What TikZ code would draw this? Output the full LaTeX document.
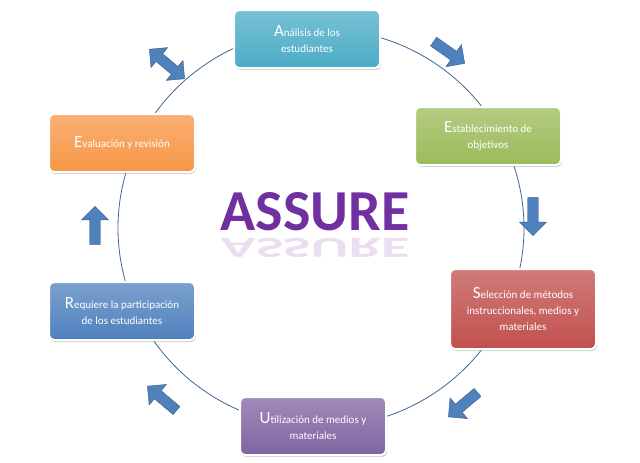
\documentclass[tikz,border=0pt]{standalone}
\usepackage{fontspec}
\setmainfont{Carlito}
\usetikzlibrary{shapes.arrows,shadows}
\definecolor{cteal}{HTML}{4BACC6}
\definecolor{cgreen}{HTML}{9BBB59}
\definecolor{cred}{HTML}{C0504D}
\definecolor{cpurple}{HTML}{8064A2}
\definecolor{cblue}{HTML}{4F81BD}
\definecolor{corange}{HTML}{F79646}
\definecolor{cassure}{HTML}{7030A0}
\tikzset{
 stage/.style={draw=white,line width=2pt,rounded corners=5pt,minimum width=146pt,minimum height=58pt,text=white,align=center,font=\fontsize{11}{16}\selectfont,drop shadow={opacity=0.35,shadow xshift=1pt,shadow yshift=-2pt},top color=#1!75!white,bottom color=#1},
 sarrow/.style={single arrow,draw=cblue!70!black,fill=cblue,minimum height=38pt,minimum width=27pt,single arrow head extend=5pt,inner sep=3pt},
 darrow/.style={double arrow,draw=cblue!70!black,fill=cblue,minimum height=46pt,minimum width=26pt,double arrow head extend=5pt,inner sep=3pt},
}
\newcommand{\bigini}[1]{{\fontsize{17}{17}\selectfont #1}}
\begin{document}
\begin{tikzpicture}[x=1pt,y=-1pt]
\useasboundingbox (0,0) rectangle (640,463);
\fill[white] (0,0) rectangle (640,463);
\draw[cblue!80!black,line width=0.8pt] (321,228) ellipse [x radius=203,y radius=199];
\node[stage=cteal] (a) at (307,39) {\bigini{A}nálisis de los\\estudiantes};
\node[stage=cgreen] (e) at (488,136) {\bigini{E}stablecimiento de\\objetivos};
\node[stage=cred,minimum height=80pt] (s) at (523,309) {\bigini{S}elección de métodos\\instruccionales, medios y\\materiales};
\node[stage=cpurple] (u) at (313,426) {\bigini{U}tilización de medios y\\materiales};
\node[stage=cblue] (r) at (122,311) {\bigini{R}equiere la participación\\de los estudiantes};
\node[stage=corange] (v) at (122,143) {\bigini{E}valuación y revisión};
\node[sarrow,rotate=-35] (ar1) at (447,51) {};
\node[sarrow,rotate=-90] (ar2) at (533,214) {};
\node[sarrow,rotate=-140] (ar3) at (465,403) {};
\node[sarrow,rotate=140] (ar4) at (164,400) {};
\node[sarrow,rotate=90] (ar5) at (95,228) {};
\node[darrow,rotate=-40] (ar6) at (167,64) {};
\node[text=cassure,font=\fontsize{58}{58}\selectfont\bfseries] (t) at (315,212) {ASSURE};
\node[text=cassure!25,font=\fontsize{58}{58}\selectfont\bfseries,yscale=-0.5,opacity=0.6] (tr) at (315,248) {ASSURE};
\end{tikzpicture}
\end{document}
